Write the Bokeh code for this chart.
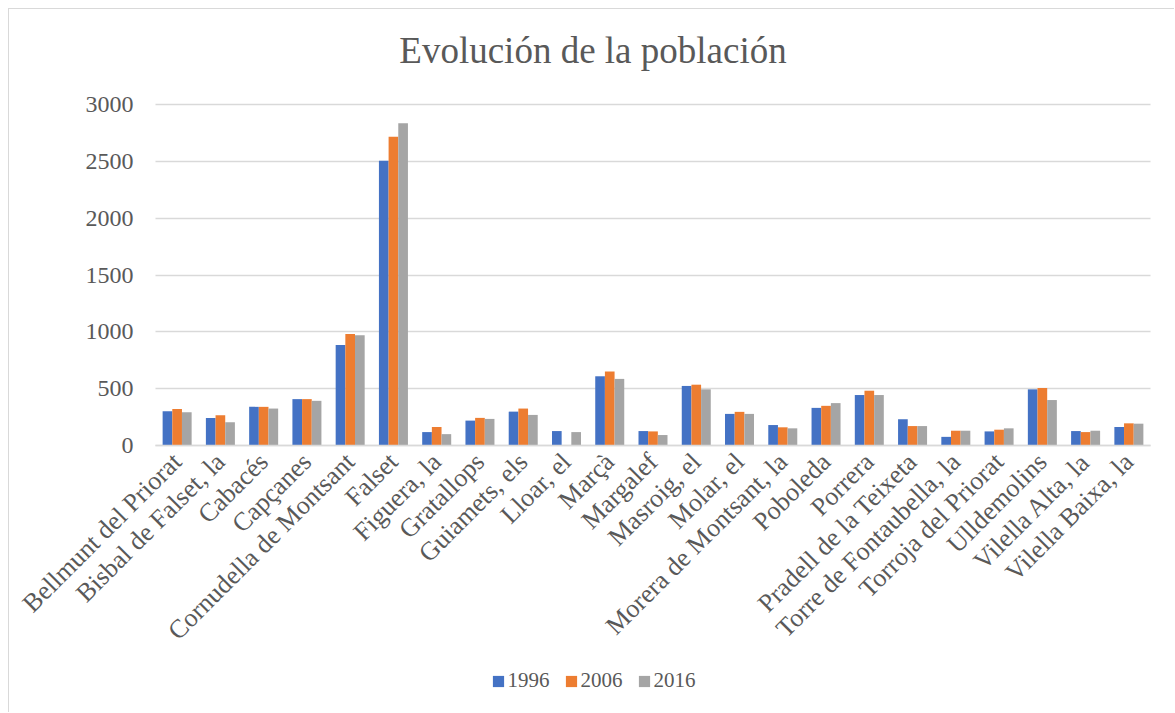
import math
from bokeh.plotting import figure
from bokeh.models import (ColumnDataSource, Range1d, FixedTicker, Legend, LegendItem, Label,
                          LinearAxis, Grid)
from bokeh.transform import dodge
from bokeh.embed import file_html
from bokeh.resources import INLINE

municipis = ["Bellmunt del Priorat", "Bisbal de Falset, la", "Cabacés", "Capçanes",
             "Cornudella de Montsant", "Falset", "Figuera, la", "Gratallops",
             "Guiamets, els", "Lloar, el", "Marçà", "Margalef", "Masroig, el",
             "Molar, el", "Morera de Montsant, la", "Poboleda", "Porrera",
             "Pradell de la Teixeta", "Torre de Fontaubella, la", "Torroja del Priorat",
             "Ulldemolins", "Vilella Alta, la", "Vilella Baixa, la"]
pob_1996 = [302, 243, 340, 408, 884, 2505, 118, 219, 298, 127, 609, 127, 524, 278, 180, 331, 444, 231, 76, 124, 494, 127, 163]
pob_2006 = [322, 266, 340, 408, 982, 2717, 163, 243, 325, 0, 651, 124, 535, 296, 160, 349, 482, 171, 130, 139, 506, 118, 195]
pob_2016 = [293, 204, 325, 393, 970, 2835, 100, 234, 269, 118, 586, 92, 494, 278, 151, 373, 444, 171, 130, 151, 400, 130, 192]
series_names = ["1996", "2006", "2016"]
y_ticks = [0, 500, 1000, 1500, 2000, 2500, 3000]
title_text = "Evolución de la población"

colors = ["#4472C4", "#ED7D31", "#A5A5A5"]
FONT = "Liberation Serif"
TXT = "#595959"
GRID = "#D9D9D9"

n = len(municipis)
idx = list(range(n))
src = ColumnDataSource(dict(idx=idx, cat=municipis, a=pob_1996, b=pob_2006, c=pob_2016))

# canvas occupies page x 9..1175, y 9..713 (8px margin + 1px border)
# plot area in the reference: x 155..1150, value 0 at y 445, 3000 at y 104
W, H = 1166, 704
cw = (1150 - 155) / n            # px per category
ky = 3000 / 341.0                # value per px
x_lo = -0.5 - (155 - 9) / cw
x_hi = n - 0.5 + (1175 - 1150) / cw
y_lo = -(713 - 445) * ky
y_hi = (445 - 9) * ky

p = figure(x_range=Range1d(x_lo, x_hi), y_range=Range1d(y_lo, y_hi),
           width=W, height=H, output_backend="svg", toolbar_location=None,
           x_axis_location=None, y_axis_location=None,
           min_border_left=0, min_border_right=0, min_border_top=0, min_border_bottom=0)
p.styles = {"margin-left": "8px", "margin-top": "8px",
            "border-left": "1px solid #D9D9D9", "border-top": "1px solid #D9D9D9"}
p.outline_line_color = None
p.background_fill_color = "white"
p.border_fill_color = "white"
for g in p.grid:
    g.visible = False

# horizontal gridlines limited to the plot area
yg = Grid(dimension=1, ticker=FixedTicker(ticks=y_ticks), grid_line_color=GRID, grid_line_width=1.5)
if "cross_bounds" in yg.properties():
    yg.cross_bounds = (-0.5, n - 0.5)
    p.add_layout(yg, "center")
else:
    p.segment(x0=-0.5, x1=n - 0.5, y0=y_ticks, y1=y_ticks, line_color=GRID, line_width=1.5)

bw = 0.2235
renderers = []
for i, (col, colr) in enumerate(zip(["a", "b", "c"], colors)):
    r = p.vbar(x=dodge("idx", (i - 1) * bw), top=col, width=bw,
               source=src, fill_color=colr, line_color=None)
    renderers.append(r)

# y axis at the left edge of the plot area
yax = LinearAxis(fixed_location=-0.5, ticker=FixedTicker(ticks=y_ticks), bounds=(0, 3000))
yax.axis_line_color = None
yax.major_tick_line_color = None
yax.minor_tick_line_color = None
yax.major_label_text_font = FONT
yax.major_label_text_font_size = "24px"
yax.major_label_text_color = TXT
yax.major_label_standoff = 16
p.add_layout(yax, "left")

# category axis at value 0
xax = LinearAxis(fixed_location=0, ticker=FixedTicker(ticks=idx), bounds=(-0.5, n - 0.5),
                 major_label_overrides={i: name for i, name in zip(idx, municipis)})
xax.axis_line_color = GRID
xax.axis_line_width = 1.5
xax.major_tick_line_color = None
xax.minor_tick_line_color = None
xax.major_label_orientation = math.pi / 4
xax.major_label_text_font = FONT
xax.major_label_text_font_size = "26px"
xax.major_label_text_color = TXT
xax.major_label_standoff = 6
p.add_layout(xax, "below")

# title (frame-relative screen coordinates: x from frame left, y from frame bottom)
p.add_layout(Label(x=583.5, y=713 - 50, x_units="screen", y_units="screen", text=title_text,
                   text_font=FONT, text_font_size="37px", text_color=TXT,
                   text_align="center", text_baseline="alphabetic"))

legend = Legend(items=[LegendItem(label=s, renderers=[r]) for s, r in zip(series_names, renderers)],
                orientation="horizontal", location=(481.6, 20),
                label_text_font=FONT, label_text_font_size="21px", label_text_color=TXT,
                glyph_width=14, glyph_height=14, label_standoff=3, spacing=14,
                padding=0, margin=0, border_line_color=None, background_fill_alpha=0)
p.add_layout(legend, "center")

open("out.html", "w").write(file_html(p, INLINE))
